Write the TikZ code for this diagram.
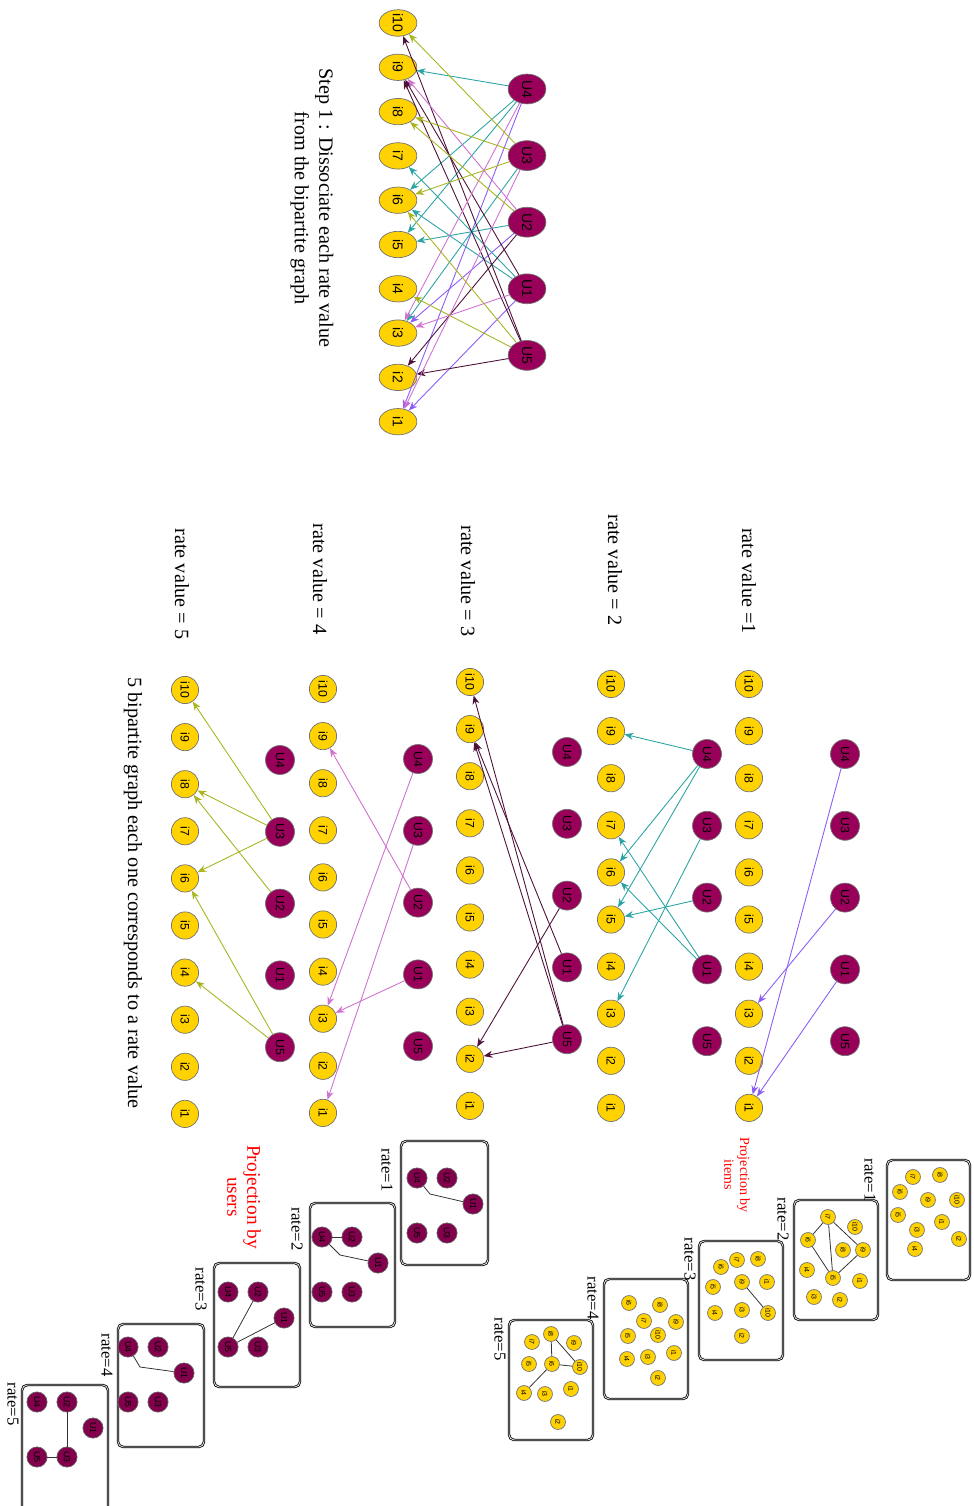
\documentclass[tikz,border=0pt]{standalone}
\usepackage{fontspec}
\setmainfont{Liberation Serif}
\newfontfamily\labelfont{Liberation Sans}
\definecolor{itemgold}{HTML}{FFD200}
\definecolor{userplum}{HTML}{990059}
\definecolor{rateA}{HTML}{8B5CF6}
\definecolor{rateB}{HTML}{2BA3A3}
\definecolor{rateC}{HTML}{4D1038}
\definecolor{rateD}{HTML}{D070D0}
\definecolor{rateE}{HTML}{A8B420}
\usetikzlibrary{shapes.geometric, arrows.meta, positioning}

\begin{document}
\begin{tikzpicture}[
  x=0.02cm, y=-0.02cm,
  every node/.style={rotate=-90},
  titem/.style={ellipse, draw=black!55, fill=itemgold, inner sep=0pt,
    minimum width=15pt, minimum height=21.5pt,
    font=\labelfont\fontsize{8}{9}\selectfont},
  tuser/.style={ellipse, draw=black!55, fill=userplum, inner sep=0pt,
    minimum width=17pt, minimum height=21.5pt,
    font=\labelfont\fontsize{8}{9}\selectfont},
  ritem/.style={circle, draw=black!55, fill=itemgold, inner sep=0pt,
    minimum size=15.5pt, font=\labelfont\fontsize{7}{8}\selectfont},
  ruser/.style={circle, draw=black!55, fill=userplum, inner sep=0pt,
    minimum size=16.5pt, font=\labelfont\fontsize{7}{8}\selectfont},
  pitem/.style={circle, draw=black!55, fill=itemgold, inner sep=0pt,
    minimum size=8.5pt, font=\labelfont\fontsize{4}{4.5}\selectfont},
  puser/.style={circle, draw=black!60, fill=userplum!85!black, inner sep=0pt,
    minimum size=11.5pt, font=\labelfont\fontsize{5}{5.5}\selectfont},
  pbox/.style={draw=black, line width=0.45pt, double=gray!25,
    double distance=0.5pt, rounded corners=3pt},
  pline/.style={draw=black!80, line width=0.45pt},
  title/.style={align=center, font=\fontsize{11.5}{14}\selectfont},
  valuelabel/.style={font=\fontsize{11.5}{13}\selectfont},
  ratelabel/.style={font=\fontsize{9.5}{11}\selectfont},
  proj/.style={align=center, text=red, font=\fontsize{10}{10.5}\selectfont},
  rate1/.style={-{Stealth[length=5pt,width=4pt]}, draw=rateA, line width=0.5pt},
  rate2/.style={-{Stealth[length=5pt,width=4pt]}, draw=rateB, line width=0.5pt},
  rate3/.style={-{Stealth[length=5pt,width=4pt]}, draw=rateC, line width=0.5pt},
  rate4/.style={-{Stealth[length=5pt,width=4pt]}, draw=rateD, line width=0.5pt},
  rate5/.style={-{Stealth[length=5pt,width=4pt]}, draw=rateE, line width=0.5pt}
]
  \useasboundingbox (0,0) rectangle (973,1506);

  % step 1 : full bipartite graph
  \foreach \k in {1,...,10}
    \node[titem] (ti\k) at (398, {23+(10-\k)*44.3}) {i\k};
  \foreach \u [count=\j from 0] in {4,3,2,1,5}
    \node[tuser] (tu\u) at (527, {89+\j*66.6}) {U\u};
  \node[title] (step) at (312,208) {Step 1 : Dissociate each rate value\\from the bipartite graph};

  % one bipartite graph per rate value
  \foreach \r/\ix/\ux/\dy in {1/749/845/0, 2/611/707/0, 3/470/567/-2, 4/323/418/5, 5/185/280/6}{
    \foreach \k in {1,...,10}
      \node[ritem] (r\r-i\k) at (\ix, {684+(10-\k)*47.1+\dy}) {i\k};
    \foreach \u [count=\j from 0] in {4,3,2,1,5}
      \node[ruser] (r\r-u\u) at (\ux, {754+\j*71.8+\dy}) {U\u};
  }
  \foreach \r/\lst in {1/{4/1,2/3,1/1}, 2/{4/9,4/6,4/5,3/3,2/5,1/7,1/6},
      3/{1/9,5/10,5/9,2/2,5/2}, 4/{4/3,3/1,2/9,1/3},
      5/{3/10,3/8,3/6,2/8,5/6,5/4}}
    \foreach \u/\k in \lst {
      \draw[rate\r] (tu\u) -- (ti\k);
      \draw[rate\r] (r\r-u\u) -- (r\r-i\k);
    }

  \node[valuelabel] (v1) at (749,581) {rate value =1};
  \node[valuelabel] (v2) at (615,570) {rate value = 2};
  \node[valuelabel] (v3) at (468,581) {rate value = 3};
  \node[valuelabel] (v4) at (320,579) {rate value = 4};
  \node[valuelabel] (v5) at (182,584) {rate value = 5};
  \node[title] (sum) at (133,893) {5 bipartite graph each one corresponds to a rate value};

  % projection by items
  \node[proj, font=\fontsize{8}{9}\selectfont] (projI) at (737,1175) {Projection by\\items};
  \draw[pbox] (887,1160) rectangle (970,1280);
  \draw[pbox] (794,1200) rectangle (878,1320);
  \draw[pbox] (699,1241) rectangle (783,1360);
  \draw[pbox] (604,1279) rectangle (688,1399);
  \draw[pbox] (509,1320) rectangle (593,1440);
  \node[ratelabel] (ia) at (870,1180) {rate=1};
  \node[ratelabel] (ib) at (783,1219) {rate=2};
  \node[ratelabel] (ic) at (690,1259) {rate=3};
  \node[ratelabel] (id) at (593,1298) {rate=4};
  \node[ratelabel] (ie) at (500,1339) {rate=5};

  \foreach \n/\x/\y in {8/940/1175, 7/913/1177, 10/957/1200, 9/928/1200, 6/900/1192,
      5/898/1215, 1/942/1222, 3/917/1230, 2/959/1239, 4/915/1249}
    \node[pitem] (p1i\n) at (\x,\y) {i\n};
  \foreach \n/\x/\y in {7/828/1217, 10/855/1227, 6/808/1240, 8/843/1250, 9/863/1250,
      4/807/1270, 5/833/1278, 1/860/1281, 3/814/1297, 2/840/1300}
    \node[pitem] (p2i\n) at (\x,\y) {i\n};
  \foreach \n/\x/\y in {8/758/1259, 7/737/1260, 6/721/1267, 5/713/1287, 9/742/1282,
      1/767/1282, 3/742/1310, 10/768/1313, 4/715/1313, 2/742/1336}
    \node[pitem] (p3i\n) at (\x,\y) {i\n};
  \foreach \n/\x/\y in {8/660/1305, 6/629/1303, 7/644/1321, 9/676/1322, 5/628/1336,
      10/658/1335, 1/674/1353, 3/648/1357, 4/627/1359, 2/658/1378}
    \node[pitem] (p4i\n) at (\x,\y) {i\n};
  \foreach \n/\x/\y in {8/551/1334, 7/532/1342, 9/574/1343, 5/529/1364, 6/552/1364,
      10/580/1367, 4/524/1393, 3/545/1394, 1/571/1389, 2/558/1422}
    \node[pitem] (p5i\n) at (\x,\y) {i\n};

  \draw[pline] (p2i7) -- (p2i6);
  \draw[pline] (p2i7) -- (p2i5);
  \draw[pline] (p2i7) -- (p2i9);
  \draw[pline] (p2i6) -- (p2i5);
  \draw[pline] (p2i5) -- (p2i9);
  \draw[pline] (p3i9) -- (p3i10);
  \draw[pline] (p5i8) -- (p5i6);
  \draw[pline] (p5i8) -- (p5i10);
  \draw[pline] (p5i6) -- (p5i10);
  \draw[pline] (p5i6) -- (p5i4);

  % projection by users
  \node[proj, font=\fontsize{11}{11.5}\selectfont] (projU) at (244,1197) {Projection by\\users};
  \draw[pbox] (401,1141) rectangle (488,1265);
  \draw[pbox] (310,1203) rectangle (395,1327);
  \draw[pbox] (214,1263) rectangle (300,1387);
  \draw[pbox] (118,1324) rectangle (204,1447);
  \draw[pbox] (22,1512) -- (22,1385) -- (108,1385) -- (108,1512);
  \node[ratelabel] (ua) at (387,1170) {rate=1};
  \node[ratelabel] (ub) at (297,1229) {rate=2};
  \node[ratelabel] (uc) at (201,1289) {rate=3};
  \node[ratelabel] (ud) at (107,1355) {rate=4};
  \node[ratelabel] (ue) at (13,1404) {rate=5};

  \foreach \q/\x/\y in {1/417/1178, 2/322/1237, 3/228/1292, 4/128/1347, 5/37/1402}{
    \node[puser] (q\q u4) at (\x,\y) {U4};
    \node[puser] (q\q u2) at (\x+30,\y) {U2};
    \node[puser] (q\q u1) at (\x+56,\y+26) {U1};
    \node[puser] (q\q u5) at (\x,\y+55) {U5};
    \node[puser] (q\q u3) at (\x+30,\y+55) {U3};
  }
  \coordinate (k1) at (430,1194);
  \coordinate (k2) at (340,1255);
  \coordinate (k4) at (140,1367);
  \draw[pline] (q1u4) -- (k1) -- (q1u1);
  \draw[pline] (q2u4) -- (q2u2);
  \draw[pline] (q2u4) -- (k2) -- (q2u1);
  \draw[pline] (q3u5) -- (q3u2);
  \draw[pline] (q3u5) -- (q3u1);
  \draw[pline] (q4u4) -- (k4) -- (q4u1);
  \draw[pline] (q5u2) -- (q5u3);
  \draw[pline] (q5u5) -- (q5u3);
\end{tikzpicture}
\end{document}
